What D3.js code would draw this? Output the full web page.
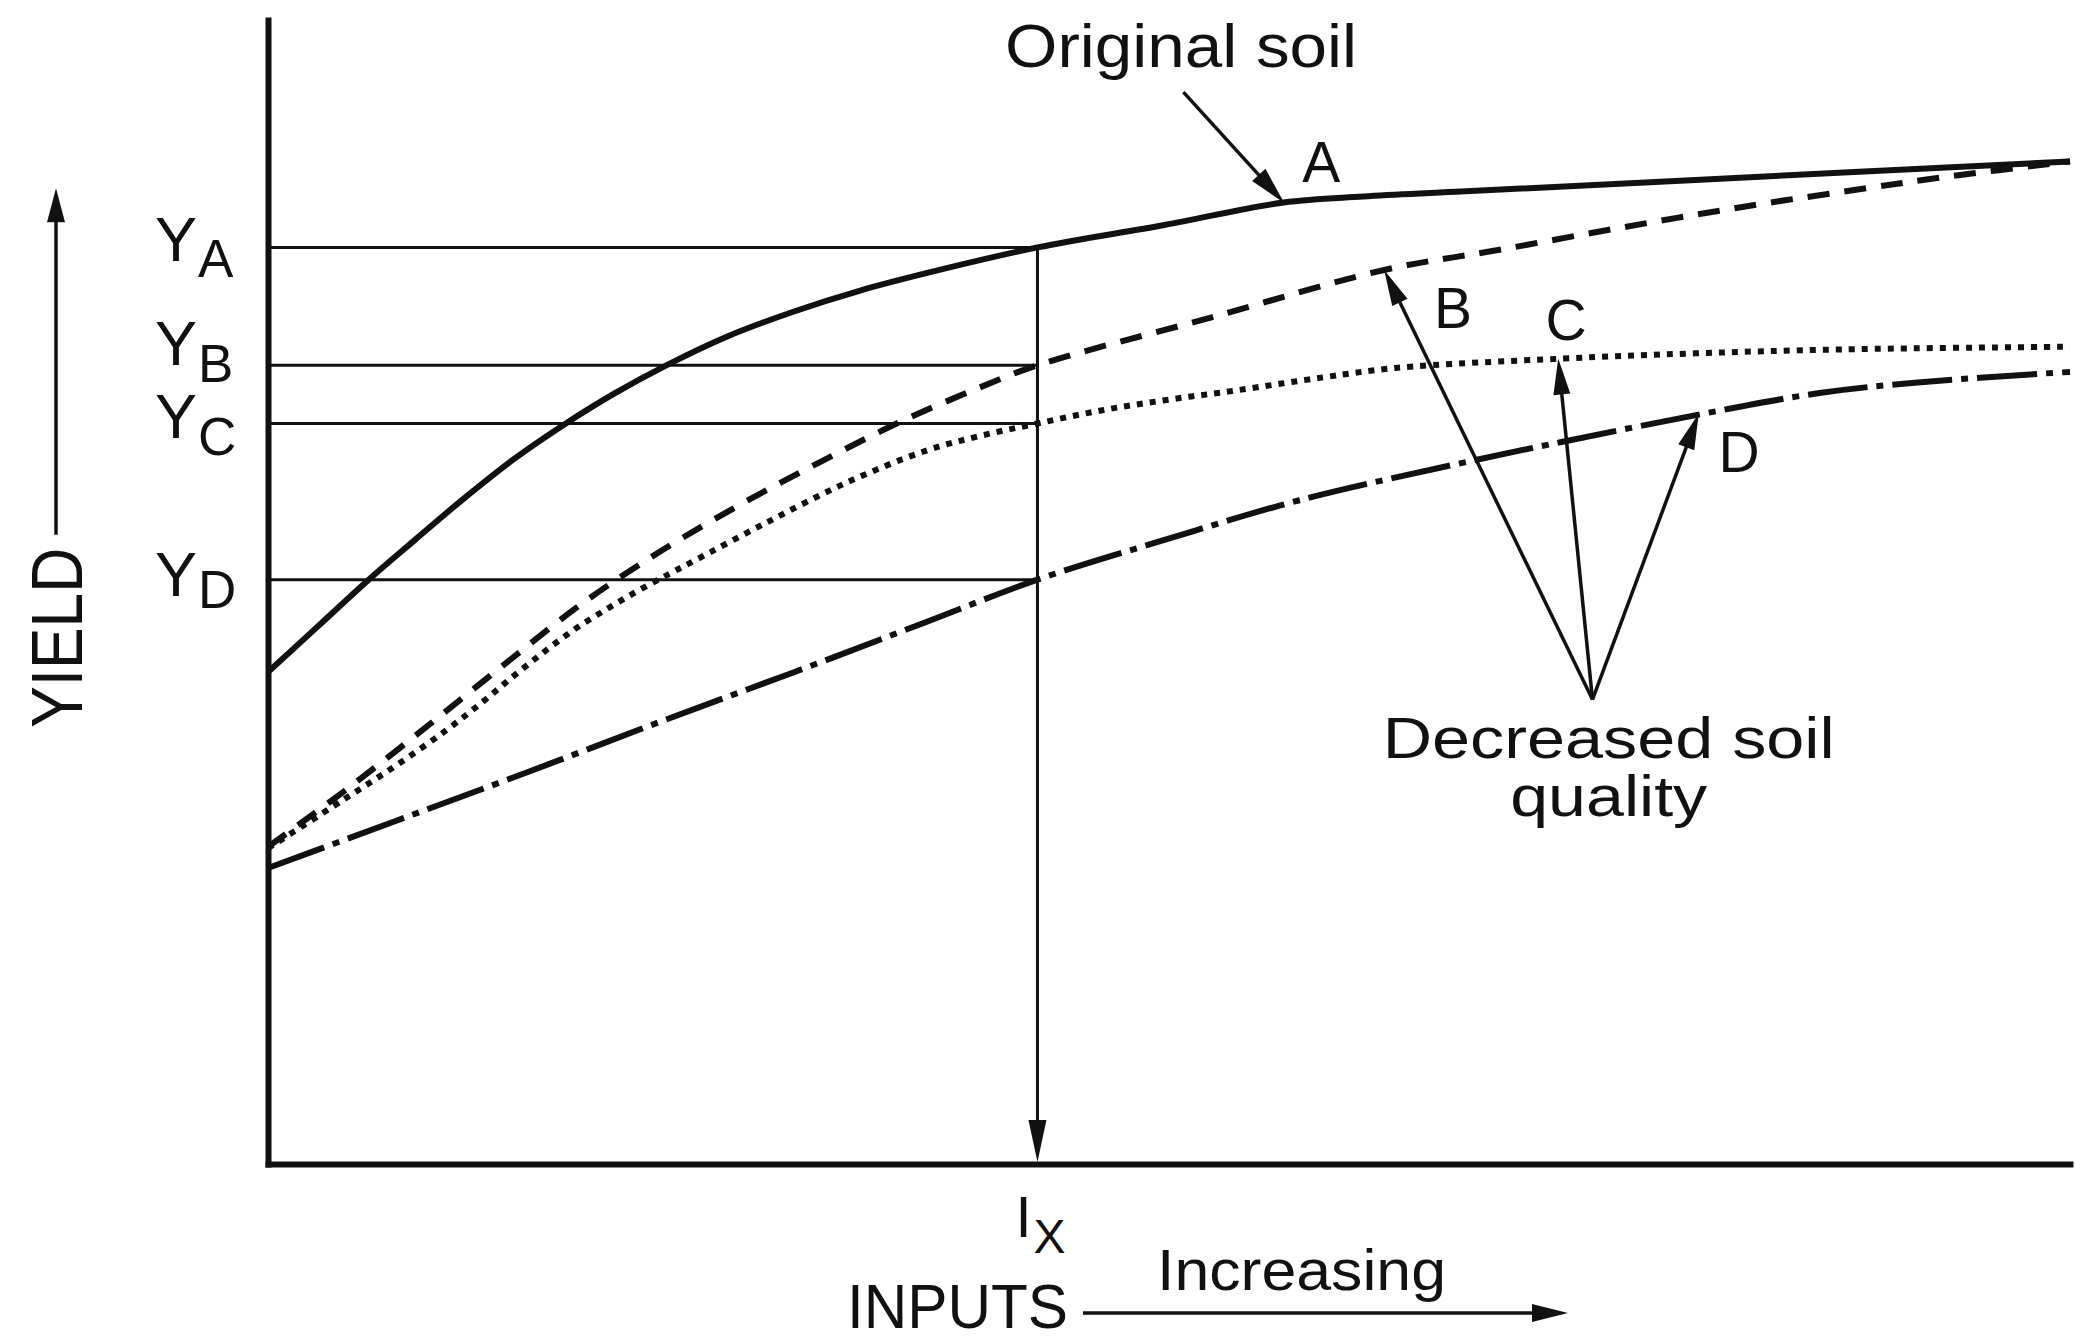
<!DOCTYPE html>
<html><head><meta charset="utf-8">
<script src="https://cdn.jsdelivr.net/npm/d3@7/dist/d3.min.js"></script>
<style>
html,body{margin:0;padding:0;background:#fff;}
svg{display:block;}
text{font-family:"Liberation Sans", Arial, Helvetica, sans-serif; fill:#111;}
</style></head><body>
<svg id="chart" width="2075" height="1340"></svg>
<script>
// ---------------- data (inputs 0..100, yield 0..100) ----------------
const curveNames = ["A", "B", "C", "D"];
const curveA_x = [0, 2.75, 5.54, 8.19, 10.83, 13.62, 16.34, 19.28, 22.21, 25.52, 29.19, 32.86, 36.53, 42.70, 49.75, 56.36, 60.77, 65.91, 80.59, 100];
const curveA_y = [43.0, 46.97, 51.01, 54.60, 58.12, 61.59, 64.54, 67.40, 69.90, 72.36, 74.52, 76.35, 77.87, 80.12, 82.08, 84.05, 84.57, 84.98, 86.13, 87.64];
const curveB_x = [0, 4.22, 8.63, 13.03, 17.44, 21.85, 26.25, 30.66, 35.06, 39.47, 42.70, 52.32, 61.94, 68.26, 75.09, 81.99, 88.82, 92.93, 100];
const curveB_y = [27.72, 32.58, 38.01, 43.56, 49.00, 53.63, 57.68, 61.38, 64.85, 67.86, 69.82, 73.99, 78.15, 79.89, 81.85, 83.70, 85.32, 86.25, 87.64];
const curveC_x = [0, 4.22, 7.16, 9.88, 11.86, 13.62, 15.38, 17.07, 18.83, 20.52, 22.29, 23.76, 27.72, 32.13, 36.53, 39.47, 42.70, 46.30, 49.97, 53.72, 58.64, 62.60, 71.78, 79.20, 87.42, 100];
const curveC_y = [27.60, 31.88, 34.89, 37.90, 40.33, 42.64, 44.84, 46.80, 48.54, 50.10, 51.60, 52.82, 56.11, 59.58, 62.36, 63.63, 64.73, 65.89, 66.81, 67.62, 68.78, 69.59, 70.40, 70.86, 71.21, 71.44];
const curveD_x = [0, 7.16, 14.50, 21.85, 29.19, 36.53, 42.70, 49.75, 57.24, 66.86, 71.78, 79.49, 86.10, 91.54, 100];
const curveD_y = [25.87, 30.03, 34.31, 38.71, 42.99, 47.38, 51.08, 54.55, 58.02, 61.49, 63.11, 65.54, 67.39, 68.32, 69.24];

const levelLabels = ["A", "B", "C", "D"];          // Y_A .. Y_D
const levelValues = [80.12, 69.82, 64.73, 51.08];  // yield at input I_X
const inputLevel = 42.70;                          // I_X

// annotation anchors (data space)
const arrowTargets = [[61.94, 78.15], [71.6, 70.4], [79.4, 65.6]]; // B, C, D
const arrowOrigin = [73.5, 40.6];
const curveLabelPos = [[57.4, 85.8], [64.7, 73.1], [70.9, 72.0], [80.5, 60.5]];

// ---------------- layout ----------------
const svg = d3.select("#chart");
const x = d3.scaleLinear().domain([0, 100]).range([268, 2070]);
const y = d3.scaleLinear().domain([0, 100]).range([1164, 20]);
const INK = "#111";

function zipXY(xs, ys) { return xs.map((v, i) => [v, ys[i]]); }
const curves = [
  {name: "A", pts: zipXY(curveA_x, curveA_y), dash: null, w: 6},
  {name: "B", pts: zipXY(curveB_x, curveB_y), dash: "22,15", w: 6},
  {name: "C", pts: zipXY(curveC_x, curveC_y), dash: "6,7", w: 6},
  {name: "D", pts: zipXY(curveD_x, curveD_y), dash: "60,9,7,9", w: 6}
];

function arrow(g, x1, y1, x2, y2, headLen, headW, sw) {
  const dx = x2 - x1, dy = y2 - y1, L = Math.hypot(dx, dy);
  const ux = dx / L, uy = dy / L;
  const bx = x2 - ux * headLen, by = y2 - uy * headLen;
  g.append("line").attr("x1", x1).attr("y1", y1).attr("x2", bx + ux * 2).attr("y2", by + uy * 2)
    .attr("stroke", INK).attr("stroke-width", sw);
  g.append("path")
    .attr("d", `M${x2},${y2}L${bx - uy * headW / 2},${by + ux * headW / 2}L${bx + uy * headW / 2},${by - ux * headW / 2}Z`)
    .attr("fill", INK);
}

// reference lines for Y levels
const refs = svg.append("g");
refs.selectAll("line.lvl").data(levelValues).join("line").attr("class", "lvl")
  .attr("x1", x(0)).attr("x2", x(inputLevel))
  .attr("y1", d => y(d)).attr("y2", d => y(d))
  .attr("stroke", INK).attr("stroke-width", 3);

// vertical I_X line with arrow to axis
arrow(refs, x(inputLevel), y(levelValues[0]), x(inputLevel), y(0) - 2, 42, 18, 3);

// curves
const line = d3.line().x(d => x(d[0])).y(d => y(d[1])).curve(d3.curveCatmullRom.alpha(0.5));
svg.append("g").selectAll("path").data(curves).join("path")
  .attr("d", d => line(d.pts))
  .attr("fill", "none").attr("stroke", INK)
  .attr("stroke-width", d => d.w)
  .attr("stroke-dasharray", d => d.dash)
  .attr("stroke-linejoin", "round");

// axes (no ticks)
const axG = svg.append("g");
axG.append("g").attr("transform", `translate(0,${y(0)})`)
  .call(d3.axisBottom(x).tickValues([]).tickSizeOuter(0));
axG.append("g").attr("transform", `translate(${x(0)},0)`)
  .call(d3.axisLeft(y).tickValues([]).tickSizeOuter(0));
axG.selectAll(".domain").attr("stroke", INK).attr("stroke-width", 6).attr("stroke-linecap", "square");

// Y level labels
const labelDy = [14, 0, 15, 16];
const subDy = [16, 17, 17, 12];
const ylab = svg.append("g");
levelValues.forEach((v, i) => {
  const t = ylab.append("text").attr("x", x(0) - 113).attr("y", y(v) + labelDy[i]);
  t.append("tspan").attr("font-size", 63).text("Y");
  t.append("tspan").attr("font-size", 53).attr("dx", 1).attr("dy", subDy[i]).text(levelLabels[i]);
});

// YIELD axis title + arrow
const yt = svg.append("g");
yt.append("text").attr("transform", `translate(${x(0) - 186},${y(46)}) rotate(-90)`)
  .attr("text-anchor", "middle").attr("font-size", 72)
  .attr("textLength", 180).attr("lengthAdjust", "spacingAndGlyphs").text("YIELD");
arrow(yt, x(0) - 212, y(55), x(0) - 212, y(85.3), 34, 18, 3.5);

// I_X label
const ix = svg.append("text").attr("x", x(inputLevel) - 22).attr("y", y(0) + 73);
ix.append("tspan").attr("font-size", 58).text("I");
ix.append("tspan").attr("font-size", 48).attr("dx", 2).attr("dy", 16).text("X");

// INPUTS and Increasing
svg.append("text").attr("x", 847).attr("y", y(0) + 164).attr("font-size", 63)
  .attr("textLength", 221).attr("lengthAdjust", "spacingAndGlyphs").text("INPUTS");
svg.append("text").attr("x", 1157).attr("y", y(0) + 126).attr("font-size", 58)
  .attr("textLength", 289).attr("lengthAdjust", "spacingAndGlyphs").text("Increasing");
arrow(svg.append("g"), 1083, y(0) + 149, 1568, y(0) + 149, 36, 18, 3.5);

// Original soil + arrow to curve A
svg.append("text").attr("x", x(40.9)).attr("y", y(95.9)).attr("font-size", 61)
  .attr("textLength", 352).attr("lengthAdjust", "spacingAndGlyphs").text("Original soil");
arrow(svg.append("g"), x(50.8), y(93.7), x(56.4), y(84.0), 38, 18, 3.5);

// curve letters
svg.append("g").selectAll("text").data(curveNames).join("text")
  .attr("x", (d, i) => x(curveLabelPos[i][0])).attr("y", (d, i) => y(curveLabelPos[i][1]))
  .attr("font-size", 57).text(d => d);

// decreased soil quality arrows
const dq = svg.append("g");
arrowTargets.forEach(t => arrow(dq, x(arrowOrigin[0]), y(arrowOrigin[1]), x(t[0]), y(t[1]), 36, 17, 3.5));
svg.append("text").attr("x", x(74.4)).attr("y", y(35.5)).attr("text-anchor", "middle").attr("font-size", 57)
  .attr("textLength", 452).attr("lengthAdjust", "spacingAndGlyphs").text("Decreased soil");
svg.append("text").attr("x", x(74.4)).attr("y", y(30.4)).attr("text-anchor", "middle").attr("font-size", 57)
  .attr("textLength", 197).attr("lengthAdjust", "spacingAndGlyphs").text("quality");
</script>
</body></html>
